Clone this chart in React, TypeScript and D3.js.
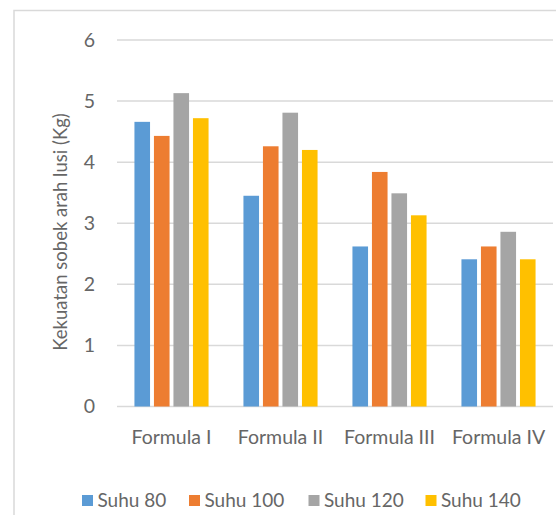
import React from 'react';
import * as d3 from 'd3';

const categories = ['Formula I', 'Formula II', 'Formula III', 'Formula IV'];
const seriesNames = ['Suhu 80', 'Suhu 100', 'Suhu 120', 'Suhu 140'];
const suhu80 = [4.66, 3.45, 2.62, 2.41];
const suhu100 = [4.43, 4.26, 3.84, 2.62];
const suhu120 = [5.13, 4.81, 3.49, 2.86];
const suhu140 = [4.72, 4.2, 3.13, 2.41];
const yTicks = [0, 1, 2, 3, 4, 5, 6];
const colors = ['#5B9BD5', '#ED7D31', '#A5A5A5', '#FFC000'];
const yTitle = 'Kekuatan sobek arah lusi (Kg)';

const values = [suhu80, suhu100, suhu120, suhu140];

const App = () => {
  const width = 556;
  const height = 515;
  const font = 'Lato, "Open Sans", sans-serif';
  const textColor = '#666666';

  // plot area
  const left = 117;
  const right = 553;
  const top = 40;
  const bottom = 406.5;

  const y = d3.scaleLinear().domain([0, 6]).range([bottom, top]);

  const x0 = d3.scaleBand()
    .domain(categories)
    .range([left, right])
    .paddingInner(0.32)
    .paddingOuter(0.16);

  const x1 = d3.scaleBand()
    .domain(seriesNames)
    .range([0, x0.bandwidth()])
    .paddingInner(0.2);

  // legend square positions
  const legendX = [82, 189, 308.5, 425.5];

  return (
    <svg
      width={width}
      height={height}
      style={{ position: 'absolute', left: 0, top: 0, background: '#fff' }}
      fontFamily={font}
    >
      <rect x={14} y={10.5} width={600} height={600} fill="#fff" stroke="#D9D9D9" strokeWidth={1.5} />

      {/* grid */}
      {yTicks.map(t => (
        <line
          key={t}
          x1={left}
          x2={right}
          y1={y(t)}
          y2={y(t)}
          stroke="#D9D9D9"
          strokeWidth={1.5}
        />
      ))}

      {/* y tick labels */}
      {yTicks.map(t => (
        <text
          key={'l' + t}
          x={95}
          y={y(t)}
          dy="0.35em"
          textAnchor="end"
          fontSize={19.5}
          fill={textColor}
        >
          {t}
        </text>
      ))}

      {/* bars */}
      {categories.map((c, ci) => (
        <g key={c} transform={`translate(${x0(c)},0)`}>
          {seriesNames.map((s, si) => (
            <rect
              key={s}
              x={x1(s)}
              y={y(values[si][ci])}
              width={x1.bandwidth()}
              height={bottom - y(values[si][ci])}
              fill={colors[si]}
            />
          ))}
        </g>
      ))}

      {/* category labels */}
      {categories.map(c => (
        <text
          key={'c' + c}
          x={(x0(c) as number) + x0.bandwidth() / 2}
          y={437}
          dy="0.35em"
          textAnchor="middle"
          fontSize={19.5}
          fill={textColor}
        >
          {c}
        </text>
      ))}

      {/* y title */}
      <text
        transform={`translate(61,232) rotate(-90)`}
        textAnchor="middle"
        dy="0.35em"
        fontSize={18.5}
        fill={textColor}
      >
        {yTitle}
      </text>

      {/* legend */}
      {seriesNames.map((s, i) => (
        <g key={'lg' + s}>
          <rect x={legendX[i]} y={495} width={11} height={11} fill={colors[i]} />
          <text
            x={legendX[i] + 15.5}
            y={500.5}
            dy="0.35em"
            fontSize={19}
            fill={textColor}
          >
            {s}
          </text>
        </g>
      ))}
    </svg>
  );
};

export default App;
